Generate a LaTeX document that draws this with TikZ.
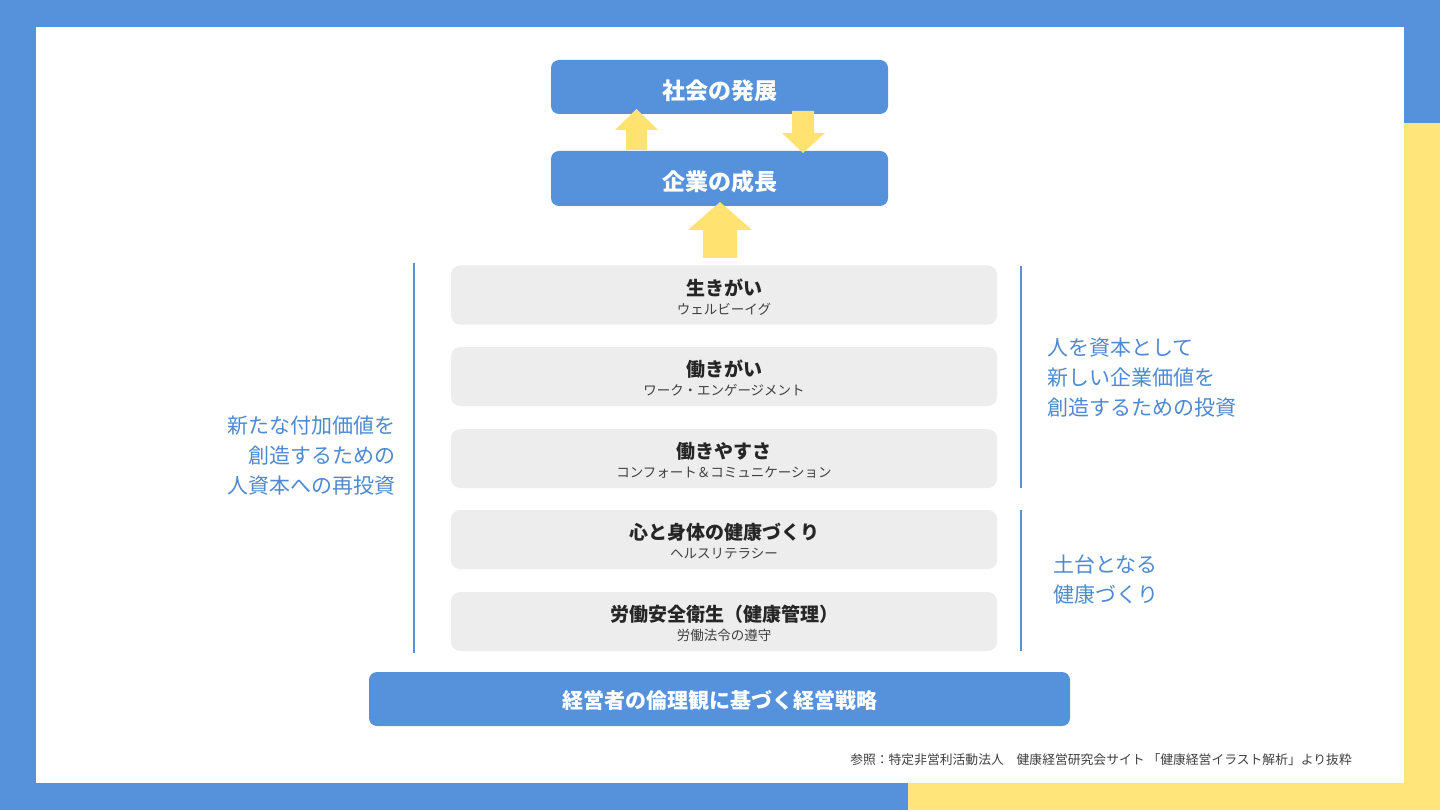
\documentclass[tikz,border=0pt]{standalone}
\usepackage{fontspec}
\setmainfont{Noto Sans CJK JP}
\definecolor{frameblue}{RGB}{85,146,219}
\definecolor{frameyellow}{RGB}{255,229,122}
\definecolor{arrowyellow}{RGB}{255,226,112}
\definecolor{boxgray}{RGB}{237,237,237}
\definecolor{labelblue}{RGB}{78,138,210}
\definecolor{darktext}{RGB}{38,38,38}
\definecolor{subtext}{RGB}{64,64,64}
\tikzset{
  bluebox/.style={fill=frameblue, rounded corners=8pt, inner sep=0pt},
  titletext/.style={text=white, font=\fontsize{23}{26}\selectfont\bfseries, inner sep=0pt},
  graybox/.style={fill=boxgray, rounded corners=9pt, minimum width=546pt, minimum height=59pt, inner sep=0pt},
  maintext/.style={text=darktext, font=\fontsize{19}{22}\selectfont\bfseries, inner sep=0pt},
  subtitle/.style={text=subtext, font=\fontsize{13.5}{16}\selectfont, inner sep=0pt},
  bluelabel/.style={text=labelblue, font=\fontsize{21}{30}\selectfont, inner sep=0pt},
  bracket/.style={draw=frameblue, line width=1.6pt},
  blockarrow/.style={fill=arrowyellow}
}
\begin{document}
\begin{tikzpicture}[x=1pt,y=-1pt]
% frame
\fill[frameblue] (0,0) rectangle (1440,810);
\fill[frameyellow] (1404,123) rectangle (1440,810);
\fill[frameyellow] (908,783) rectangle (1440,810);
\fill[white] (36,27) rectangle (1404,783);
\useasboundingbox (0,0) rectangle (1440,810);

% top boxes
\node[bluebox, minimum width=337pt, minimum height=54pt] (society) at (719.5,87) {};
\node[titletext] (societyt) at ([yshift=-3.5pt]society.center) {社会の発展};
\node[bluebox, minimum width=337pt, minimum height=55pt] (company) at (719.5,178.5) {};
\node[titletext] (companyt) at ([yshift=-3.5pt]company.center) {企業の成長};

% gray boxes
\node[graybox] (b1) at (724,295) {};
\node[graybox] (b2) at (724,376.5) {};
\node[graybox] (b3) at (724,458.5) {};
\node[graybox] (b4) at (724,539.5) {};
\node[graybox] (b5) at (724,621.5) {};

\node[maintext] (t1) at ([yshift=7pt]b1.center) {生きがい};
\node[subtitle] (s1) at ([yshift=-14pt]b1.center) {ウェルビーイグ};
\node[maintext] (t2) at ([yshift=7pt]b2.center) {働きがい};
\node[subtitle] (s2) at ([yshift=-14pt]b2.center) {ワーク・エンゲージメント};
\node[maintext] (t3) at ([yshift=7pt]b3.center) {働きやすさ};
\node[subtitle] (s3) at ([yshift=-14pt]b3.center) {コンフォート＆コミュニケーション};
\node[maintext] (t4) at ([yshift=7pt]b4.center) {心と身体の健康づくり};
\node[subtitle] (s4) at ([yshift=-14pt]b4.center) {ヘルスリテラシー};
\node[maintext] (t5) at ([yshift=7pt]b5.center) {労働安全衛生（健康管理）};
\node[subtitle] (s5) at ([yshift=-14pt]b5.center) {労働法令の遵守};

% bottom box
\node[bluebox, minimum width=701pt, minimum height=54pt] (strategy) at (719.5,699) {};
\node[titletext, font=\fontsize{21}{24}\selectfont\bfseries] (strategyt) at ([yshift=-1pt]strategy.center) {経営者の倫理観に基づく経営戦略};

% arrows (drawn over boxes)
\fill[blockarrow] (626,150) -- (626,130) -- (615,130) -- (636.5,109) -- (658,130) -- (647,130) -- (647,150) -- cycle;
\fill[blockarrow] (792,111) -- (814,111) -- (814,133) -- (825,133) -- (803,153) -- (782,133) -- (792,133) -- cycle;
\fill[blockarrow] (703,258) -- (703,230) -- (688,230) -- (720,202) -- (752,230) -- (737,230) -- (737,258) -- cycle;

% brackets
\coordinate (lt) at (414,263);
\coordinate (lb) at (414,653);
\draw[bracket] (lt) -- (lb);
\coordinate (r1t) at (1021,266);
\coordinate (r1b) at (1021,488);
\draw[bracket] (r1t) -- (r1b);
\coordinate (r2t) at (1021,510);
\coordinate (r2b) at (1021,651);
\draw[bracket] (r2t) -- (r2b);

% side labels
\node[bluelabel, align=right, anchor=east] (leftlabel) at (396,456) {新たな付加価値を\\創造するための\\人資本への再投資};
\node[bluelabel, align=left, anchor=west] (rightlabel1) at (1047,378) {人を資本として\\新しい企業価値を\\創造するための投資};
\node[bluelabel, align=left, anchor=west] (rightlabel2) at (1053,580) {土台となる\\健康づくり};

% footnote
\node[text=subtext, font=\fontsize{12.8}{15}\selectfont, anchor=east, inner sep=0pt] (note) at (1352,760) {参照：特定非営利活動法人\hspace{1em}健康経営研究会サイト 「健康経営イラスト解析」より抜粋};
\end{tikzpicture}
\end{document}
